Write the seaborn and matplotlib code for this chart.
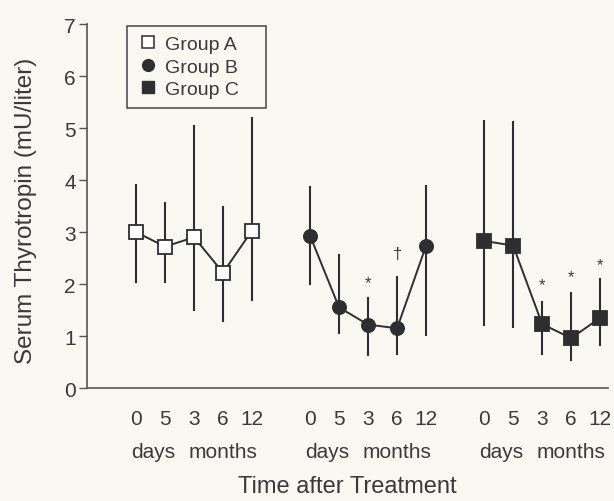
import pandas as pd
import seaborn as sns
import matplotlib.pyplot as plt
from matplotlib.lines import Line2D
from matplotlib import transforms

# values (mU/liter)
tick_labels = ['0', '5', '3', '6', '12']
groups = ['Group A', 'Group B', 'Group C']

pos_a = [0, 1, 2, 3, 4]
pos_b = [6, 7, 8, 9, 10]
pos_c = [12, 13, 14, 15, 16]

mean_a = [3.00, 2.72, 2.90, 2.22, 3.03]
low_a = [2.03, 2.03, 1.48, 1.27, 1.68]
high_a = [3.93, 3.57, 5.05, 3.50, 5.21]

mean_b = [2.93, 1.55, 1.22, 1.15, 2.74]
low_b = [1.98, 1.04, 0.62, 0.64, 1.00]
high_b = [3.89, 2.58, 1.75, 2.16, 3.91]

mean_c = [2.83, 2.74, 1.23, 0.96, 1.35]
low_c = [1.19, 1.16, 0.64, 0.52, 0.81]
high_c = [5.16, 5.13, 1.68, 1.85, 2.12]

# significance marks: (x position, y, symbol)
sig_pos = [8, 9, 14, 15, 16]
sig_y = [2.02, 2.58, 1.98, 2.14, 2.37]
sig_sym = ['*', '\u2020', '*', '*', '*']

sns.set_style('ticks')
plt.rcParams['font.family'] = ['Liberation Sans', 'DejaVu Sans']
ink = '#2e2e2e'
txt = '#3a3a3a'
bg = '#faf8f2'

fig = plt.figure(figsize=(6.14, 5.02), dpi=100, facecolor=bg)
ax = fig.add_axes([0.1417, 0.225, 0.849, 0.725], facecolor=bg)

series = [
    (pos_a, mean_a, low_a, high_a, 's', 'white', 9.5),
    (pos_b, mean_b, low_b, high_b, 'o', ink, 9.5),
    (pos_c, mean_c, low_c, high_c, 's', ink, 9.5),
]
for pos, m, lo, hi, mk, face, ms in series:
    ax.vlines(pos, lo, hi, color=ink, lw=1.5, zorder=1)
    df = pd.DataFrame({'pos': pos, 'tsh': m})
    sns.lineplot(data=df, x='pos', y='tsh', ax=ax, color=ink, lw=1.4,
                 marker=mk, markersize=ms, markerfacecolor=face,
                 markeredgecolor=ink, markeredgewidth=1.3, zorder=3)

for x, y, s in zip(sig_pos, sig_y, sig_sym):
    ax.text(x, y, s, ha='center', va='center', fontsize=12, color=txt)

ax.set_xlim(-1.69, 16.28)
ax.set_ylim(0, 7)
ax.set_yticks(range(8))
ax.set_xticks(pos_a + pos_b + pos_c)
ax.set_xticklabels(tick_labels * 3)
ax.tick_params(axis='x', length=0, pad=15, labelsize=15, labelcolor=txt)
ax.tick_params(axis='y', length=6, width=1, pad=2, labelsize=15,
               labelcolor=txt, color='#555555')
sns.despine(ax=ax)
for side in ['left', 'bottom']:
    ax.spines[side].set_color('#555555')
    ax.spines[side].set_linewidth(1.2)

# days / months row under the tick labels
tr = transforms.blended_transform_factory(ax.transData, ax.transAxes)
for start in [0, 6, 12]:
    ax.text(start + 0.6, -0.175, 'days', transform=tr, ha='center',
            va='center', fontsize=15, color=txt)
    ax.text(start + 3, -0.175, 'months', transform=tr, ha='center',
            va='center', fontsize=15, color=txt)

ax.set_xlabel('Time after Treatment', fontsize=17, color=txt)
ax.xaxis.set_label_coords(0.5, -0.24)
ax.set_ylabel('Serum Thyrotropin (mU/liter)', fontsize=17.5, color=txt)
ax.yaxis.set_label_coords(-0.096, 0.49)

handles = [
    Line2D([], [], ls='none', marker='s', ms=8.5, mfc='white', mec=ink, mew=1.1),
    Line2D([], [], ls='none', marker='o', ms=8.5, mfc=ink, mec=ink),
    Line2D([], [], ls='none', marker='s', ms=8.5, mfc=ink, mec=ink),
]
leg = ax.legend(handles, groups, loc='upper left',
                bbox_to_anchor=(0.077, 0.5, 0.267, 0.495), mode='expand',
                borderaxespad=0, fontsize=14, frameon=True, fancybox=False,
                handlelength=1.1, handletextpad=0.35, labelspacing=0.25,
                borderpad=0.5, labelcolor=txt)
leg.get_frame().set_edgecolor('#444444')
leg.get_frame().set_linewidth(1.1)
leg.get_frame().set_facecolor(bg)
leg.get_frame().set_alpha(1)

fig.savefig('out.png', dpi=100, facecolor=bg)
